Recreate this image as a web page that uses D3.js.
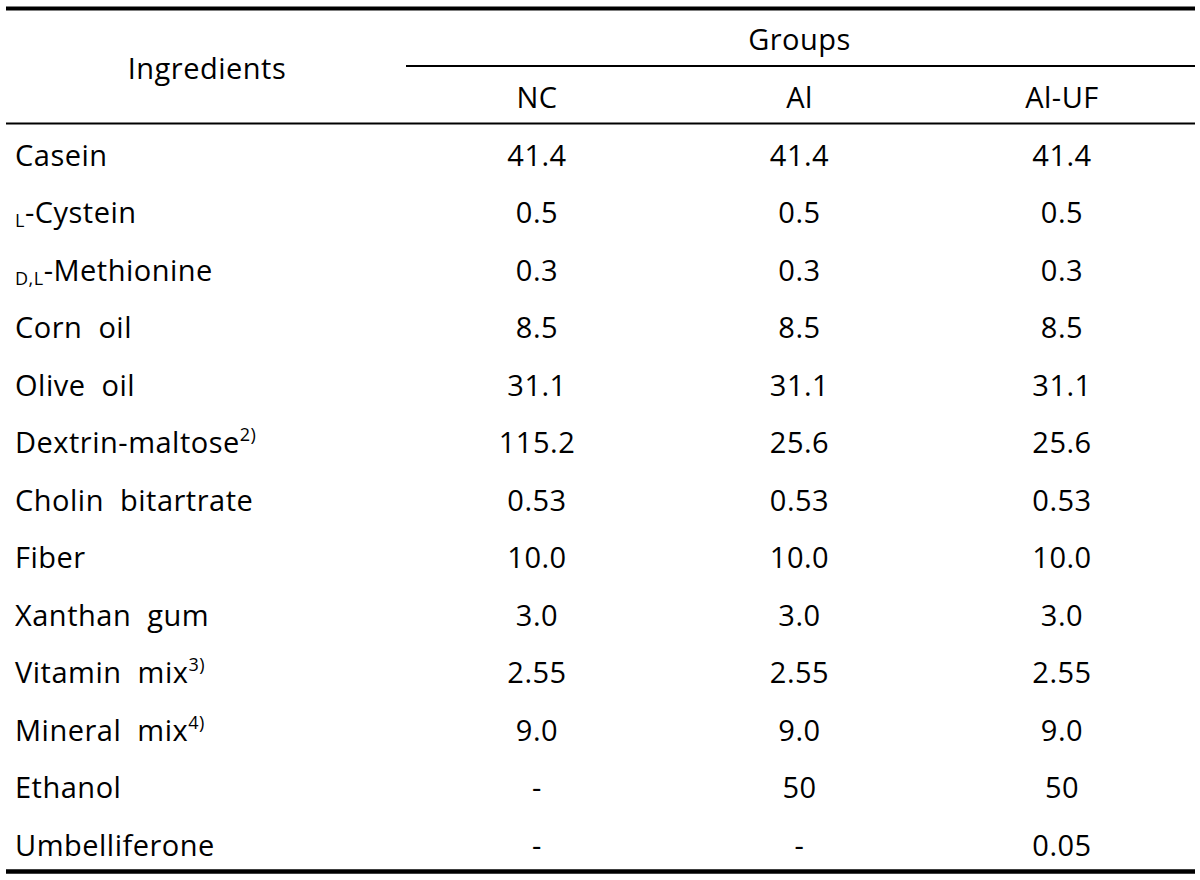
<!DOCTYPE html>
<html>
<head>
<meta charset="utf-8">
<script src="https://cdn.jsdelivr.net/npm/d3@7"></script>
<style>
  html, body { margin: 0; padding: 0; background: #fff; }
  svg text { font-family: "Open Sans", "Noto Sans", sans-serif; fill: #000; letter-spacing: 0.5px; }
</style>
</head>
<body>
<svg id="chart" width="1200" height="880"></svg>
<script>
// ---- data ----
const groups = ["NC", "Al", "Al-UF"];
const groupTitle = "Groups";
const rowHeader = "Ingredients";
// ingredient names: [prefix-subscript, main text, superscript]
const ingredientSub = ["", "L", "D,L", "", "", "", "", "", "", "", "", "", ""];
const ingredientMain = ["Casein", "-Cystein", "-Methionine", "Corn  oil", "Olive  oil",
  "Dextrin-maltose", "Cholin  bitartrate", "Fiber", "Xanthan  gum", "Vitamin  mix",
  "Mineral  mix", "Ethanol", "Umbelliferone"];
const ingredientSup = ["", "", "", "", "", "2)", "", "", "", "3)", "4)", "", ""];
const ncValues   = ["41.4", "0.5", "0.3", "8.5", "31.1", "115.2", "0.53", "10.0", "3.0", "2.55", "9.0", "-", "-"];
const alValues   = ["41.4", "0.5", "0.3", "8.5", "31.1", "25.6", "0.53", "10.0", "3.0", "2.55", "9.0", "50", "-"];
const alUfValues = ["41.4", "0.5", "0.3", "8.5", "31.1", "25.6", "0.53", "10.0", "3.0", "2.55", "9.0", "50", "0.05"];

const svg = d3.select("#chart");
const fontSize = 29;
const smallSize = 18;

const rowIdx = d3.range(ingredientMain.length);
const y = d3.scaleBand().domain(rowIdx).range([126.25, 873.75]).padding(0);
const x = d3.scalePoint().domain(groups).range([537, 1062]);
const cols = [ncValues, alValues, alUfValues];

// lines
svg.append("line").attr("x1", 6).attr("x2", 1195).attr("y1", 8.5).attr("y2", 8.5)
  .attr("stroke", "#000").attr("stroke-width", 4);
svg.append("line").attr("x1", 406).attr("x2", 1195).attr("y1", 66).attr("y2", 66)
  .attr("stroke", "#000").attr("stroke-width", 1.8);
svg.append("line").attr("x1", 6).attr("x2", 1195).attr("y1", 123.5).attr("y2", 123.5)
  .attr("stroke", "#000").attr("stroke-width", 1.8);
svg.append("line").attr("x1", 6).attr("x2", 1195).attr("y1", 871.5).attr("y2", 871.5)
  .attr("stroke", "#000").attr("stroke-width", 4.5);

const baseOff = 10.5;

// header
svg.append("text").attr("x", 207).attr("y", 68 + baseOff).attr("text-anchor", "middle")
  .attr("font-size", fontSize).text(rowHeader);
svg.append("text").attr("x", x("Al")).attr("y", 39 + baseOff).attr("text-anchor", "middle")
  .attr("font-size", fontSize).text(groupTitle);
svg.selectAll("text.gh").data(groups).join("text").attr("class", "gh")
  .attr("x", d => x(d)).attr("y", 97 + baseOff).attr("text-anchor", "middle")
  .attr("font-size", fontSize).text(d => d);

// ingredient names
const nameT = svg.selectAll("text.name").data(rowIdx).join("text").attr("class", "name")
  .attr("x", 15).attr("y", i => y(i) + y.bandwidth() / 2 + baseOff)
  .attr("font-size", fontSize).attr("xml:space", "preserve");
nameT.each(function(i) {
  const t = d3.select(this);
  if (ingredientSub[i]) {
    t.append("tspan").attr("font-size", smallSize).attr("dy", 4).text(ingredientSub[i]);
    t.append("tspan").attr("dy", -4).text(ingredientMain[i]);
  } else {
    t.append("tspan").text(ingredientMain[i]);
  }
  if (ingredientSup[i]) {
    t.append("tspan").attr("font-size", smallSize).attr("dy", -12).text(ingredientSup[i]);
  }
});

// values
groups.forEach((g, ci) => {
  svg.selectAll("text.v" + ci).data(rowIdx).join("text").attr("class", "v" + ci)
    .attr("x", x(g)).attr("y", i => y(i) + y.bandwidth() / 2 + baseOff)
    .attr("text-anchor", "middle").attr("font-size", fontSize)
    .text(i => cols[ci][i]);
});
</script>
</body>
</html>
